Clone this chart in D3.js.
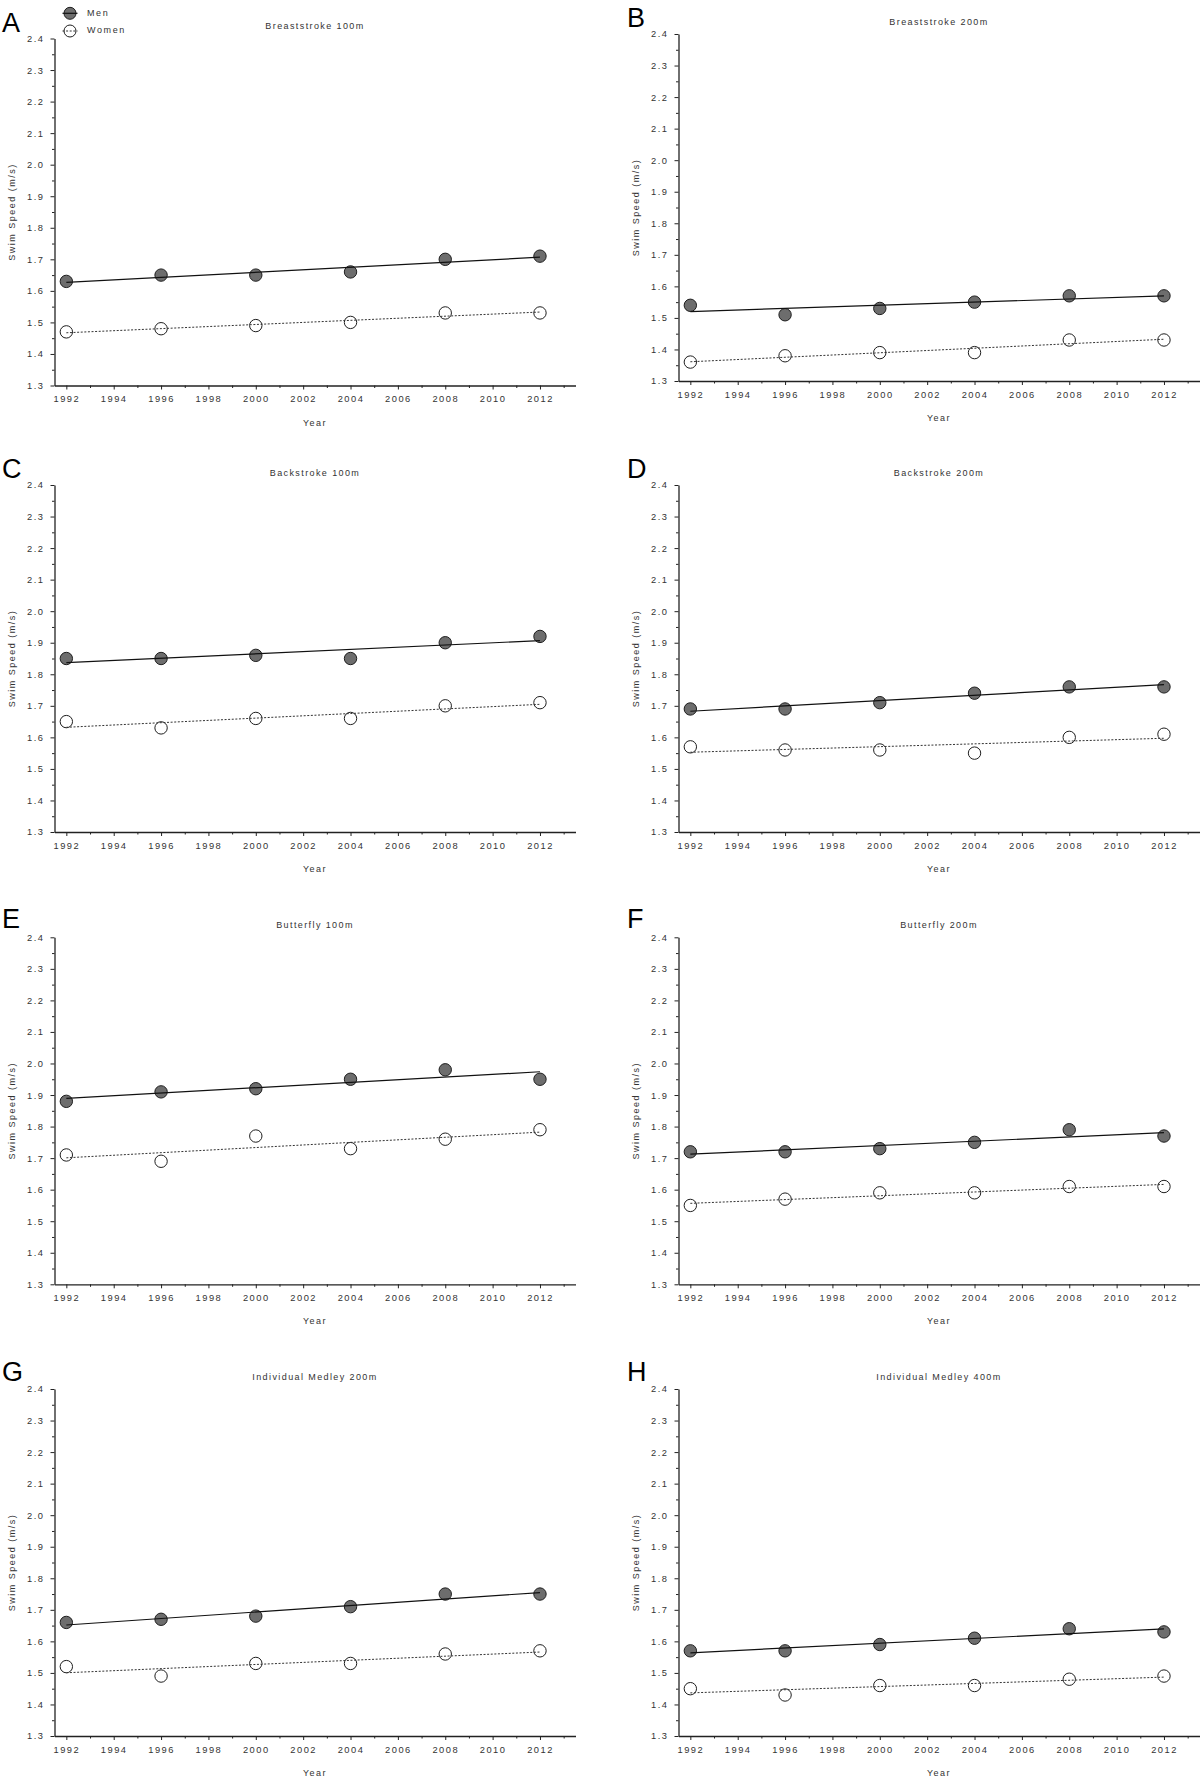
<!DOCTYPE html>
<html><head><meta charset="utf-8">
<script src="https://cdn.jsdelivr.net/npm/d3@7"></script>
<style>
body{margin:0;background:#fff;}
svg{display:block;font-family:"Liberation Sans",Arial,Helvetica,sans-serif;}
</style>
</head><body>
<svg id="chart" width="1200" height="1778"></svg>
<script>
// ---------- data ----------
const years = [1992, 1996, 2000, 2004, 2008, 2012];
const eventNames = ["Breaststroke 100m", "Breaststroke 200m", "Backstroke 100m", "Backstroke 200m",
                    "Butterfly 100m", "Butterfly 200m", "Individual Medley 200m", "Individual Medley 400m"];
const panelLetters = ["A", "B", "C", "D", "E", "F", "G", "H"];
const seriesNames = ["Men", "Women"];
const menSpeed = [
  [1.63, 1.65, 1.65, 1.66, 1.70, 1.71],
  [1.54, 1.51, 1.53, 1.55, 1.57, 1.57],
  [1.85, 1.85, 1.86, 1.85, 1.90, 1.92],
  [1.69, 1.69, 1.71, 1.74, 1.76, 1.76],
  [1.88, 1.91, 1.92, 1.95, 1.98, 1.95],
  [1.72, 1.72, 1.73, 1.75, 1.79, 1.77],
  [1.66, 1.67, 1.68, 1.71, 1.75, 1.75],
  [1.57, 1.57, 1.59, 1.61, 1.64, 1.63]
];
const womenSpeed = [
  [1.47, 1.48, 1.49, 1.50, 1.53, 1.53],
  [1.36, 1.38, 1.39, 1.39, 1.43, 1.43],
  [1.65, 1.63, 1.66, 1.66, 1.70, 1.71],
  [1.57, 1.56, 1.56, 1.55, 1.60, 1.61],
  [1.71, 1.69, 1.77, 1.73, 1.76, 1.79],
  [1.55, 1.57, 1.59, 1.59, 1.61, 1.61],
  [1.52, 1.49, 1.53, 1.53, 1.56, 1.57],
  [1.45, 1.43, 1.46, 1.46, 1.48, 1.49]
];
const xTickYears = [1992, 1994, 1996, 1998, 2000, 2002, 2004, 2006, 2008, 2010, 2012];
const xMinorYears = [1993, 1995, 1997, 1999, 2001, 2003, 2005, 2007, 2009, 2011, 2013];
const yTickValues = [1.3, 1.4, 1.5, 1.6, 1.7, 1.8, 1.9, 2.0, 2.1, 2.2, 2.3, 2.4];
const yMinorValues = [1.35, 1.45, 1.55, 1.65, 1.75, 1.85, 1.95, 2.05, 2.15, 2.25, 2.35];
const xDomain = [1991.5, 2013.5];
const yDomain = [1.3, 2.4];
const xLabel = "Year";
const yLabel = "Swim Speed (m/s)";

// ---------- layout ----------
const colLeft = [54.5, 678.5];
const plotW = 521;
const plotH = 347;
const panelTop = [38.5, 34, 485, 485, 937.3, 937.3, 1389, 1389];
const letterX = [2, 627];
const letterDy = [-6.5, -7, -6.7, -6.7, -9.3, -9.3, -8, -8];

const svg = d3.select("#chart");
const textColor = "#333";

function fit(xs, ys) {
  const mx = d3.mean(xs), my = d3.mean(ys);
  let num = 0, den = 0;
  xs.forEach((x, i) => { num += (x - mx) * (ys[i] - my); den += (x - mx) * (x - mx); });
  const b = num / den;
  return x => my + b * (x - mx);
}

eventNames.forEach((name, p) => {
  const col = p % 2;
  const left = colLeft[col];
  const top = panelTop[p];
  const g = svg.append("g").attr("transform", `translate(${left},${top})`);
  const x = d3.scaleLinear().domain(xDomain).range([0, plotW]);
  const y = d3.scaleLinear().domain(yDomain).range([plotH, 0]);

  // panel letter
  svg.append("text")
    .attr("x", letterX[col]).attr("y", top + letterDy[p])
    .attr("font-size", 27).attr("fill", "#000")
    .text(panelLetters[p]);

  // title
  g.append("text")
    .attr("x", plotW / 2).attr("y", -11.8)
    .attr("text-anchor", "middle").attr("dominant-baseline", "middle")
    .attr("font-size", 9).attr("letter-spacing", 1.4).attr("fill", textColor)
    .text(name);

  // axes
  g.append("g").attr("transform", `translate(0,${plotH})`)
    .call(d3.axisBottom(x).tickValues(xTickYears).tickSize(4).tickSizeOuter(0)
      .tickPadding(6).tickFormat(d3.format("d")));
  g.append("g").attr("transform", `translate(0,${plotH})`)
    .call(d3.axisBottom(x).tickValues(xMinorYears).tickSize(2.5).tickSizeOuter(0).tickFormat(""))
    .select(".domain").remove();
  g.append("g")
    .call(d3.axisLeft(y).tickValues(yTickValues).tickSize(4).tickSizeOuter(0)
      .tickPadding(6).tickFormat(d3.format(".1f")));
  g.append("g")
    .call(d3.axisLeft(y).tickValues(yMinorValues).tickSize(2.5).tickSizeOuter(0).tickFormat(""))
    .select(".domain").remove();

  g.selectAll(".domain").attr("stroke", "#222").attr("stroke-width", 1.3);
  g.selectAll(".tick line").attr("stroke", "#222").attr("stroke-width", 1);
  g.selectAll(".tick text").attr("font-size", 9.3).attr("fill", textColor)
    .attr("letter-spacing", 1.5).attr("font-family", "Liberation Sans, Arial, sans-serif");

  // axis labels
  g.append("text")
    .attr("x", plotW / 2).attr("y", plotH + 37.7)
    .attr("text-anchor", "middle").attr("dominant-baseline", "middle")
    .attr("font-size", 9).attr("letter-spacing", 1.5).attr("fill", textColor)
    .text(xLabel);
  g.append("text")
    .attr("transform", `translate(-42,${plotH / 2}) rotate(-90)`)
    .attr("text-anchor", "middle").attr("dominant-baseline", "middle")
    .attr("font-size", 9).attr("letter-spacing", 1.5).attr("fill", textColor)
    .text(yLabel);

  // markers
  const menPts = years.map((yr, i) => ({ yr, v: menSpeed[p][i] }));
  const womenPts = years.map((yr, i) => ({ yr, v: womenSpeed[p][i] }));
  g.selectAll("circle.men").data(menPts).join("circle").attr("class", "men")
    .attr("cx", d => x(d.yr)).attr("cy", d => y(d.v)).attr("r", 6.2)
    .attr("fill", "#6d6d6d").attr("stroke", "#1e1e1e").attr("stroke-width", 1);
  g.selectAll("circle.women").data(womenPts).join("circle").attr("class", "women")
    .attr("cx", d => x(d.yr)).attr("cy", d => y(d.v)).attr("r", 6.2)
    .attr("fill", "#fff").attr("stroke", "#1e1e1e").attr("stroke-width", 1);

  // regression lines
  const fm = fit(years, menSpeed[p]);
  const fw = fit(years, womenSpeed[p]);
  const ends = [years[0], years[years.length - 1]];
  const line = d3.line().x(d => x(d[0])).y(d => y(d[1]));
  g.append("path").attr("d", line(ends.map(e => [e, fm(e)])))
    .attr("fill", "none").attr("stroke", "#111").attr("stroke-width", 1.2);
  g.append("path").attr("d", line(ends.map(e => [e, fw(e)])))
    .attr("fill", "none").attr("stroke", "#333").attr("stroke-width", 1)
    .attr("stroke-dasharray", "2,1.6");

  // legend (panel A only)
  if (p === 0) {
    const lg = svg.append("g");
    const legY = [13.3, 31];
    seriesNames.forEach((s, i) => {
      lg.append("circle").attr("cx", 70).attr("cy", legY[i]).attr("r", 6)
        .attr("fill", i === 0 ? "#6d6d6d" : "#fff").attr("stroke", "#1e1e1e").attr("stroke-width", 1);
      lg.append("line").attr("x1", 62.5).attr("x2", 77.5).attr("y1", legY[i]).attr("y2", legY[i])
        .attr("stroke", i === 0 ? "#111" : "#333").attr("stroke-width", i === 0 ? 1.2 : 1)
        .attr("stroke-dasharray", i === 0 ? null : "2,1.6");
      lg.append("text").attr("x", 87).attr("y", legY[i]).attr("dominant-baseline", "middle")
        .attr("font-size", 9).attr("letter-spacing", 1.6).attr("fill", textColor).text(s);
    });
  }
});
</script>
</body></html>
